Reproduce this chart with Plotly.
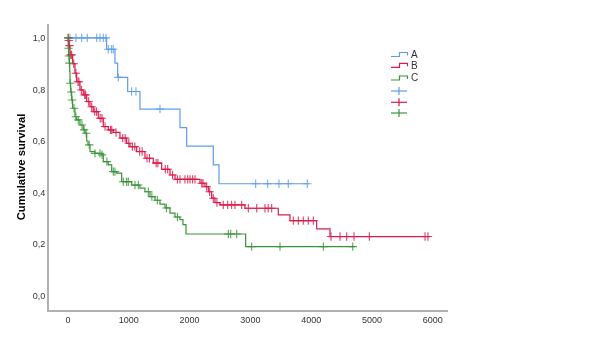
import plotly.graph_objects as go

# ---- data ----
a_times = [636, 773, 817, 982, 1184, 1842, 1952, 2390, 2484]
a_surv = [0.956, 0.902, 0.847, 0.792, 0.724, 0.652, 0.580, 0.507, 0.434]
a_end = 3969
a_cens = [33, 132, 225, 318, 472, 526, 581, 625, 664, 718, 745, 828, 1047, 1118, 1513,
          3087, 3284, 3470, 3623, 3936]

b_times = [8, 16, 33, 77, 115, 143, 197, 252, 308, 362, 416, 498, 581, 663, 745, 855, 965,
           1020, 1130, 1266, 1403, 1541, 1678, 1760, 2171, 2253, 2308, 2363, 2418, 2500,
           2911, 3459, 3651, 4090, 4309]
b_surv = [0.99, 0.97, 0.934, 0.90, 0.863, 0.83, 0.798, 0.779, 0.753, 0.733, 0.714, 0.688,
          0.656, 0.643, 0.633, 0.611, 0.591, 0.578, 0.559, 0.533, 0.514, 0.49, 0.468, 0.451,
          0.436, 0.423, 0.403, 0.378, 0.361, 0.352, 0.339, 0.313, 0.291, 0.259, 0.229]
b_end = 5950
b_cens = [5, 12, 25, 45, 60, 95, 130, 165, 180, 220, 275, 290, 340, 390, 440, 470, 530, 560,
          610, 700, 720, 790, 900, 940, 1000, 1060, 1100, 1180, 1220, 1300, 1340, 1450, 1480,
          1600, 1640, 1720, 1800, 1842, 1924, 1970, 2007, 2050, 2089, 2200, 2220, 2280, 2330,
          2390, 2450, 2554, 2627, 2692, 2747, 2857, 2966, 3104, 3240, 3294, 3350, 3706, 3788,
          3870, 3952, 4035, 4326, 4474, 4584, 4704, 4956, 5872, 5920]

c_times = [5, 12, 21, 28, 33, 44, 61, 77, 115, 143, 197, 252, 280, 308, 329, 362, 444, 554,
           581, 663, 719, 801, 883, 1048, 1184, 1266, 1349, 1431, 1513, 1595, 1678, 1760,
           1842, 1891, 1941, 2922]
c_surv = [0.96, 0.93, 0.902, 0.87, 0.824, 0.79, 0.759, 0.727, 0.694, 0.682, 0.662, 0.643,
          0.63, 0.60, 0.585, 0.559, 0.552, 0.546, 0.52, 0.507, 0.481, 0.475, 0.442, 0.429,
          0.417, 0.403, 0.384, 0.37, 0.355, 0.34, 0.32, 0.305, 0.295, 0.275, 0.239, 0.19]
c_end = 4720
c_cens = [3, 8, 16, 24, 38, 52, 68, 100, 130, 170, 230, 265, 300, 350, 444, 526, 560, 640,
          745, 773, 910, 965, 992, 1102, 1157, 1321, 1380, 1470, 1620, 1800, 2637, 2676, 2775,
          3021, 3487, 4200, 4683]

groups = ["A", "B", "C"]
colors = ["#5f9de6", "#dc1a48", "#3a943a"]
x_ticks = [0, 1000, 2000, 3000, 4000, 5000, 6000]
y_ticks = [0.0, 0.2, 0.4, 0.6, 0.8, 1.0]
y_ticklabels = ["0,0", "0,2", "0,4", "0,6", "0,8", "1,0"]


def surv_at(t, times, surv):
    s = 1.0
    for ti, si in zip(times, surv):
        if ti <= t:
            s = si
    return s


fig = go.Figure()
series = [(a_times, a_surv, a_end, a_cens), (b_times, b_surv, b_end, b_cens),
          (c_times, c_surv, c_end, c_cens)]
for (times, surv, end, cens), name, col in zip(series, groups, colors):
    xs = [0] + times + [end]
    ys = [1.0] + surv + [surv[-1]]
    fig.add_trace(go.Scatter(x=xs, y=ys, mode="lines", line=dict(color=col, width=1.2, shape="hv"),
                             name=name, showlegend=False, hoverinfo="skip"))
for (times, surv, end, cens), name, col in zip(series, groups, colors):
    fig.add_trace(go.Scatter(x=cens, y=[surv_at(t, times, surv) for t in cens], mode="markers",
                             marker=dict(symbol="cross-thin", size=6, color=col,
                                         line=dict(color=col, width=1.1)),
                             opacity=0.85, showlegend=False, hoverinfo="skip"))

# ---- custom legend (step glyphs + censor crosses) ----
W, H, L, T = 399.0, 286.0, 49.0, 24.0
def px(x):
    return (x - L) / W
def py(y):
    return 1 - (y - T) / H

shapes = []
annotations = []
leg_rows = [(56.5, "A"), (67.3, "B"), (80.0, "C")]
for (yb, name), col in zip(leg_rows, colors):
    path = (f"M {px(391)},{py(yb)} L {px(399.5)},{py(yb)} L {px(399.5)},{py(yb-4)} "
            f"L {px(407.5)},{py(yb-4)} L {px(407.5)},{py(yb-1)}")
    shapes.append(dict(type="path", xref="paper", yref="paper", path=path,
                       line=dict(color=col, width=1.2)))
    annotations.append(dict(x=px(408.5), y=py(yb - 2), xref="paper", yref="paper", text=name,
                            showarrow=False, xanchor="left", yanchor="middle",
                            font=dict(family="Liberation Sans, Arial", size=10, color="#333")))
for yc, col in zip([91, 102.3, 113], colors):
    shapes.append(dict(type="line", xref="paper", yref="paper", x0=px(391), x1=px(407),
                       y0=py(yc), y1=py(yc), line=dict(color=col, width=1.2)))
    shapes.append(dict(type="line", xref="paper", yref="paper", x0=px(399), x1=px(399),
                       y0=py(yc - 4), y1=py(yc + 4), line=dict(color=col, width=1.2)))

fig.update_layout(
    width=600, height=354,
    margin=dict(l=49, r=152, t=24, b=44),
    paper_bgcolor="white", plot_bgcolor="white",
    shapes=shapes, annotations=annotations,
    font=dict(family="Liberation Sans, Arial", size=9, color="#333"),
)
fig.update_xaxes(range=[-312, 6250], tickvals=x_ticks, ticktext=[str(v) for v in x_ticks],
                 showline=True, linecolor="#b0b0b0", linewidth=2, showgrid=False,
                 zeroline=False, ticks="", tickfont=dict(size=9, color="#333"))
fig.update_yaxes(range=[-0.056, 1.054], tickvals=y_ticks, ticktext=y_ticklabels,
                 showline=True, linecolor="#b0b0b0", linewidth=2, showgrid=False,
                 zeroline=False, ticks="", tickfont=dict(size=9, color="#333"),
                 title=dict(text="Cumulative survival", standoff=5,
                            font=dict(family="Liberation Sans, Arial", size=11.3,
                                      color="black", weight="bold")))

fig.write_html("out.html")
